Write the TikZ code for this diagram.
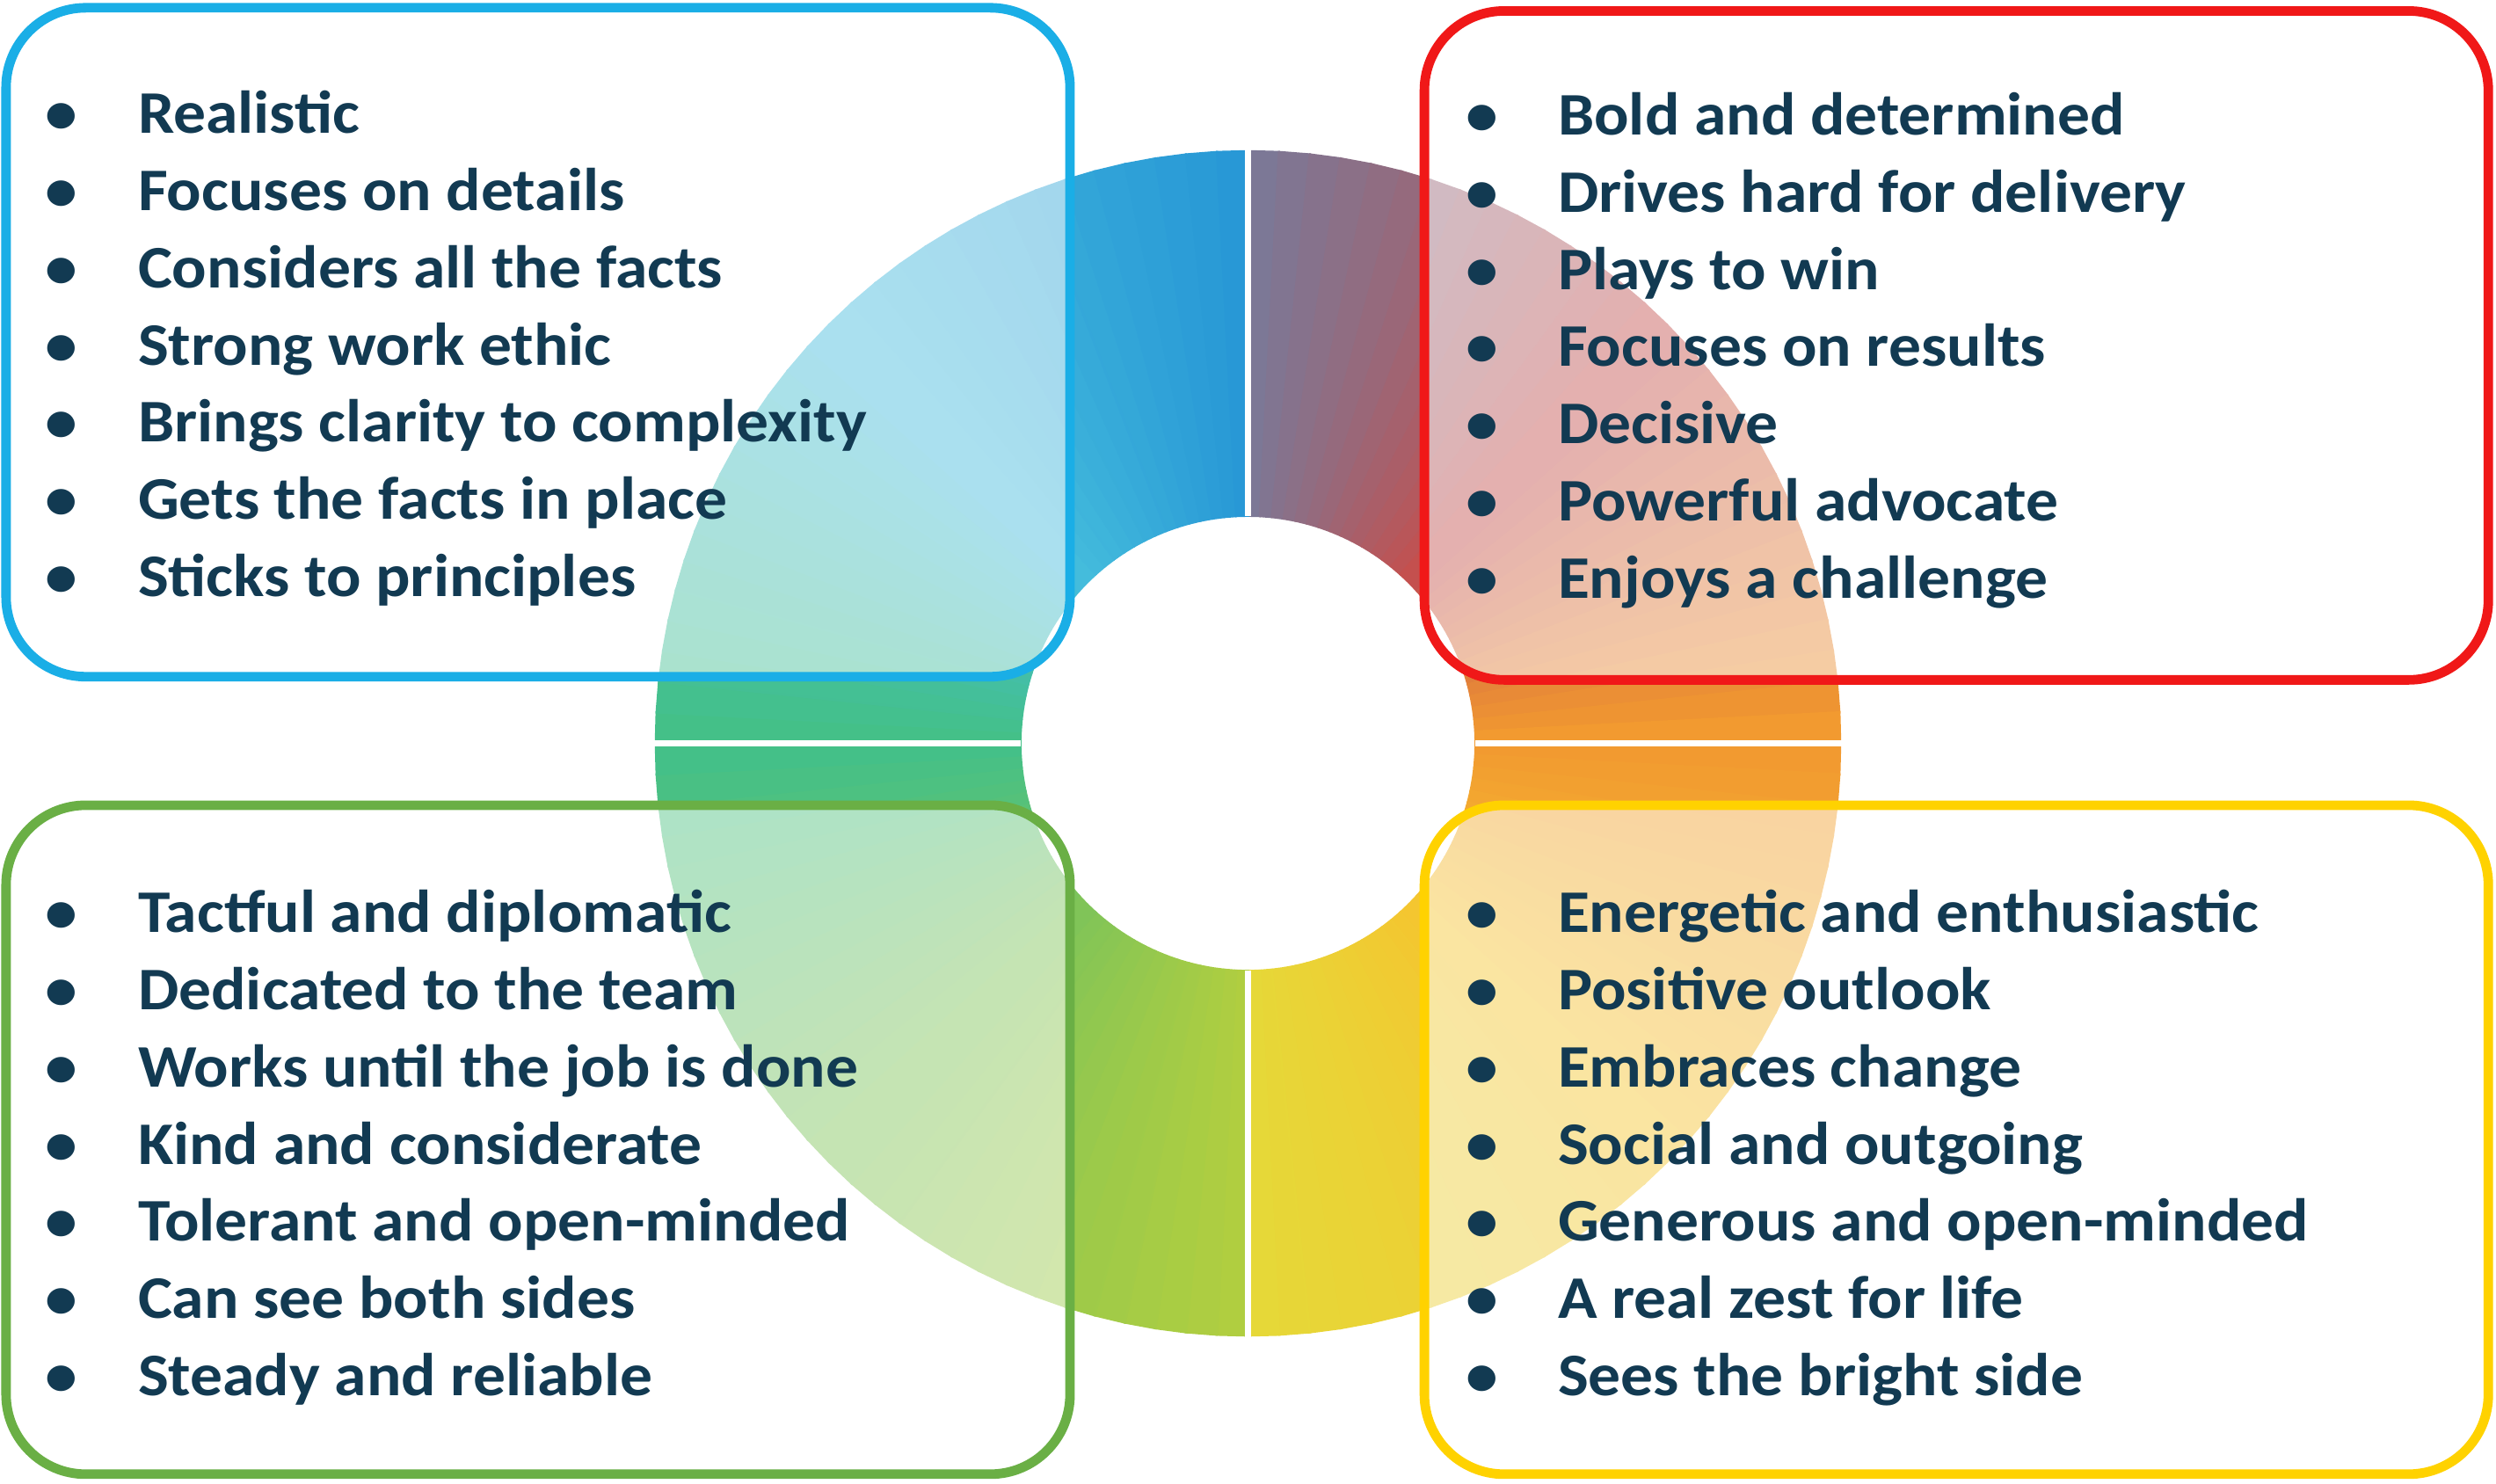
\documentclass[tikz,border=0pt]{standalone}
\usepackage{fontspec}
\setmainfont[FakeStretch=1.07]{Carlito}
\usepackage{tikz}
\usetikzlibrary{positioning}
\usepackage{xcolor}

\definecolor{textnavy}{HTML}{123A52}
\definecolor{analystblue}{HTML}{1AAEE6}
\definecolor{driverred}{HTML}{F01818}
\definecolor{amiablegreen}{HTML}{6AAF45}
\definecolor{expressyellow}{HTML}{FFD200}
% ring colours, clockwise from 12 o'clock
\definecolor{rA}{HTML}{7C7896}
\definecolor{rB}{HTML}{C4504E}
\definecolor{rC}{HTML}{F29A30}
\definecolor{rD}{HTML}{F4C630}
\definecolor{rE}{HTML}{E6D838}
\definecolor{rF}{HTML}{B0CE40}
\definecolor{rG}{HTML}{80C458}
\definecolor{rH}{HTML}{44C088}
\definecolor{rI}{HTML}{44BCDC}
\definecolor{rJ}{HTML}{2898D6}

\newcommand{\qitems}[1]{\begin{tabular}{@{}p{0.58cm}@{}l@{}}#1\end{tabular}}

\begin{document}
\begin{tikzpicture}[
    x=0.01cm, y=0.01cm,
    qbox/.style={rectangle, rounded corners=0.5cm, line width=1.7pt,
      fill=white, fill opacity=0.55, minimum width=6.68cm, minimum height=4.2cm},
    qlist/.style={anchor=north west, inner sep=0pt, text=textnavy,
      font=\fontsize{10.8}{13.8}\selectfont\bfseries}
]
\useasboundingbox (0,0) rectangle (1568,932);

% Ring
\begin{scope}[shift={(784,465)}]
\foreach \a/\b/\ca/\cb in {90/45/rA/rB, 45/0/rB/rC, 0/-45/rC/rD, -45/-90/rD/rE,
    -90/-135/rF/rG, -135/-180/rG/rH, 180/135/rH/rI, 135/90/rI/rJ} {
  \foreach \i in {0,...,14} {
    \pgfmathsetmacro\s{\a+(\b-\a)*\i/15}
    \pgfmathsetmacro\e{\a+(\b-\a)*(\i+1)/15}
    \pgfmathtruncatemacro\t{\i*100/14}
    \colorlet{wedge}{\cb!\t!\ca}
    \fill[wedge, draw=wedge, line width=0.4pt]
      (\s:372) -- (\e:372) -- (\e:143) -- (\s:143) -- cycle;
  }
}
\draw[white, line width=1.1pt] (0,143) -- (0,374) (0,-143) -- (0,-374)
  (143,0) -- (374,0) (-143,0) -- (-374,0);
\end{scope}

% Boxes
\node[qbox, draw=analystblue] (analyst) at (338,717) {};
\node[qbox, draw=driverred] (driver) at (1229,715) {};
\node[qbox, draw=amiablegreen] (amiable) at (338,216) {};
\node[qbox, draw=expressyellow] (expressive) at (1229,216) {};

% Lists
\node[qlist] (analystlist) at (28,883) {\qitems{%
  \textbullet & Realistic\\ \textbullet & Focuses on details\\
  \textbullet & Considers all the facts\\ \textbullet & Strong work ethic\\
  \textbullet & Brings clarity to complexity\\ \textbullet & Gets the facts in place\\
  \textbullet & Sticks to principles}};
\node[qlist] (driverlist) at (920,882) {\qitems{%
  \textbullet & Bold and determined\\ \textbullet & Drives hard for delivery\\
  \textbullet & Plays to win\\ \textbullet & Focuses on results\\
  \textbullet & Decisive\\ \textbullet & Powerful advocate\\
  \textbullet & Enjoys a challenge}};
\node[qlist] (amiablelist) at (28,381) {\qitems{%
  \textbullet & Tactful and diplomatic\\ \textbullet & Dedicated to the team\\
  \textbullet & Works until the job is done\\ \textbullet & Kind and considerate\\
  \textbullet & Tolerant and open-minded\\ \textbullet & Can see both sides\\
  \textbullet & Steady and reliable}};
\node[qlist] (expressivelist) at (920,381) {\qitems{%
  \textbullet & Energetic and enthusiastic\\ \textbullet & Positive outlook\\
  \textbullet & Embraces change\\ \textbullet & Social and outgoing\\
  \textbullet & Generous and open-minded\\ \textbullet & A real zest for life\\
  \textbullet & Sees the bright side}};

\end{tikzpicture}
\end{document}
